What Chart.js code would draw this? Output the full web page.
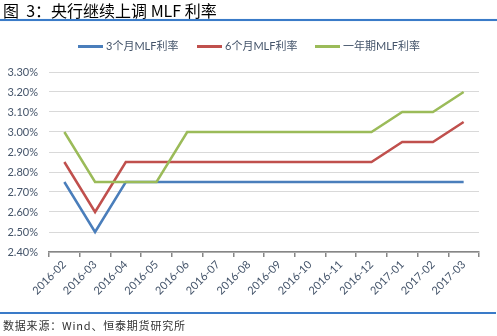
<!DOCTYPE html>
<html>
<head>
<meta charset="utf-8">
<script src="https://cdn.jsdelivr.net/npm/chart.js@4/dist/chart.umd.min.js"></script>
<style>
  html, body { margin: 0; padding: 0; background: #fff; }
  #wrap { position: relative; width: 497px; height: 336px; overflow: hidden; }
  #c { position: absolute; left: 0; top: 0; }
  .title { position: absolute; left: 3px; top: 0px; font: 16px "Noto Sans CJK SC", sans-serif; color: #000; line-height: 20px; white-space: nowrap; }
  .rule-top { position: absolute; left: 0; top: 19px; width: 497px; height: 2px; background: #3a7bc8; box-shadow: 0 0 1px #9cc0ea; }
  .rule-bot { position: absolute; left: 0; top: 312px; width: 496px; height: 2px; background: #3a7bc8; }
  .source { position: absolute; left: 3px; top: 317px; font: 11px "Noto Sans CJK SC", serif; color: #333; letter-spacing: 0.8px; white-space: nowrap; }
  .legend { position: absolute; top: 38px; left: 0; width: 497px; height: 16px; font: 11px Lato, "Noto Sans CJK SC", sans-serif; color: #44546a; }
  .legend span.item { position: absolute; top: 0; white-space: nowrap; line-height: 16px; }
  .legend i { display: inline-block; width: 25px; height: 3px; vertical-align: middle; margin-right: 3px; position: relative; top: -1px; }
</style>
</head>
<body>
<div id="wrap">
  <canvas id="c" width="497" height="336"></canvas>
  <div class="title">图&nbsp; 3：央行继续上调 MLF 利率</div>
  <div class="rule-top"></div>
  <div class="legend" id="legend"></div>
  <div class="rule-bot"></div>
  <div class="source">数据来源：Wind、恒泰期货研究所</div>
</div>
<script>
// Months on the category axis
const months = ['2016-02','2016-03','2016-04','2016-05','2016-06','2016-07','2016-08',
                '2016-09','2016-10','2016-11','2016-12','2017-01','2017-02','2017-03'];

// MLF rates (%)
const mlf3m = [2.75, 2.50, 2.75, 2.75, 2.75, 2.75, 2.75, 2.75, 2.75, 2.75, 2.75, 2.75, 2.75, 2.75];
const mlf6m = [2.85, 2.60, 2.85, 2.85, 2.85, 2.85, 2.85, 2.85, 2.85, 2.85, 2.85, 2.95, 2.95, 3.05];
const mlf1y = [3.00, 2.75, 2.75, 2.75, 3.00, 3.00, 3.00, 3.00, 3.00, 3.00, 3.00, 3.10, 3.10, 3.20];

const seriesNames = ['3个月MLF利率', '6个月MLF利率', '一年期MLF利率'];
const seriesColors = ['#4a7ebb', '#c0504d', '#9bbb59'];

// Y axis range and step (%)
const yMin = 2.40, yMax = 3.30, yStep = 0.10;

const labelColor = '#44546a';

const ds = (i, data, order) => ({
  label: seriesNames[i],
  data: data,
  borderColor: seriesColors[i],
  backgroundColor: seriesColors[i],
  borderWidth: 2.5,
  pointRadius: 0,
  tension: 0,
  fill: false,
  order: order
});

new Chart(document.getElementById('c'), {
  type: 'line',
  data: {
    labels: months,
    datasets: [ds(0, mlf3m, 2), ds(1, mlf6m, 1), ds(2, mlf1y, 0)]
  },
  options: {
    responsive: false,
    animation: false,
    devicePixelRatio: 1,
    layout: { padding: { left: 0, right: 18, top: 72, bottom: 0 } },
    plugins: { legend: { display: false }, tooltip: { enabled: false } },
    scales: {
      x: {
        type: 'category',
        offset: true,
        afterFit: s => { s.height = 84; },
        grid: { display: true, offset: true, drawOnChartArea: false, drawTicks: true, tickLength: 5, color: '#868686', lineWidth: 1.5 },
        border: { display: true, color: '#868686', width: 1.5 },
        ticks: { color: labelColor, font: { family: 'Lato, sans-serif', size: 11 }, minRotation: 45, maxRotation: 45, padding: 1, autoSkip: false }
      },
      y: {
        min: yMin,
        max: yMax,
        afterFit: s => { s.width = 49; },
        afterBuildTicks: s => {
          const t = [];
          for (let v = yMin; v <= yMax + 1e-9; v += yStep) t.push({ value: Math.round(v * 100) / 100 });
          s.ticks = t;
        },
        grid: { color: '#d9d9d9', lineWidth: 1, drawTicks: false },
        border: { display: false },
        ticks: {
          color: labelColor,
          font: { family: 'Lato, sans-serif', size: 11 },
          padding: 11,
          callback: v => v.toFixed(2) + '%'
        }
      }
    }
  }
});

// Legend rendered as text with line swatches
const legendPos = [78, 197, 315];
const legend = document.getElementById('legend');
seriesNames.forEach((name, i) => {
  const item = document.createElement('span');
  item.className = 'item';
  item.style.left = legendPos[i] + 'px';
  const sw = document.createElement('i');
  sw.style.background = seriesColors[i];
  item.appendChild(sw);
  item.appendChild(document.createTextNode(name));
  legend.appendChild(item);
});
</script>
</body>
</html>
